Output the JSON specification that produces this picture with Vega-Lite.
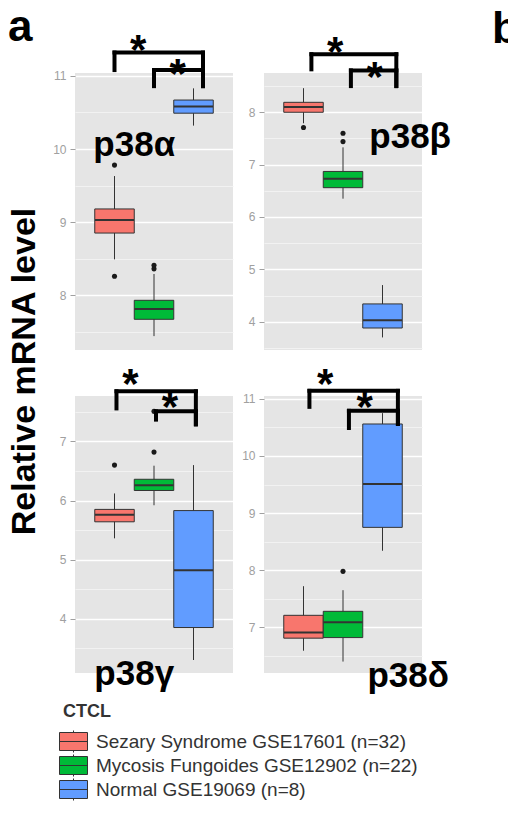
{
  "$schema": "https://vega.github.io/schema/vega-lite/v6.json",
  "padding": {"left": 7, "top": 5, "right": 0, "bottom": 0},
  "background": "white",
  "config": {
    "view": {"fill": "#E5E5E5", "stroke": null},
    "font": "Liberation Sans"
  },
  "datasets": {
    "boxes": [
      {"panel": "p38α", "group": "Sezary Syndrome GSE17601 (n=32)", "lower": 8.49, "q1": 8.85, "median": 9.03, "q3": 9.18, "upper": 9.63},
      {"panel": "p38α", "group": "Mycosis Fungoides GSE12902 (n=22)", "lower": 7.44, "q1": 7.67, "median": 7.81, "q3": 7.93, "upper": 8.29},
      {"panel": "p38α", "group": "Normal GSE19069 (n=8)", "lower": 10.32, "q1": 10.49, "median": 10.58, "q3": 10.67, "upper": 10.83},
      {"panel": "p38β", "group": "Sezary Syndrome GSE17601 (n=32)", "lower": 7.79, "q1": 8.0, "median": 8.1, "q3": 8.19, "upper": 8.46},
      {"panel": "p38β", "group": "Mycosis Fungoides GSE12902 (n=22)", "lower": 6.35, "q1": 6.56, "median": 6.73, "q3": 6.87, "upper": 7.33},
      {"panel": "p38β", "group": "Normal GSE19069 (n=8)", "lower": 3.7, "q1": 3.88, "median": 4.03, "q3": 4.34, "upper": 4.7},
      {"panel": "p38γ", "group": "Sezary Syndrome GSE17601 (n=32)", "lower": 5.36, "q1": 5.64, "median": 5.76, "q3": 5.85, "upper": 6.12},
      {"panel": "p38γ", "group": "Mycosis Fungoides GSE12902 (n=22)", "lower": 5.92, "q1": 6.17, "median": 6.26, "q3": 6.36, "upper": 6.59},
      {"panel": "p38γ", "group": "Normal GSE19069 (n=8)", "lower": 3.3, "q1": 3.85, "median": 4.82, "q3": 5.83, "upper": 6.6},
      {"panel": "p38δ", "group": "Sezary Syndrome GSE17601 (n=32)", "lower": 6.59, "q1": 6.81, "median": 6.91, "q3": 7.21, "upper": 7.72},
      {"panel": "p38δ", "group": "Mycosis Fungoides GSE12902 (n=22)", "lower": 6.4, "q1": 6.82, "median": 7.09, "q3": 7.28, "upper": 7.65},
      {"panel": "p38δ", "group": "Normal GSE19069 (n=8)", "lower": 8.34, "q1": 8.75, "median": 9.51, "q3": 10.56, "upper": 10.75}
    ],
    "outliers": [
      {"panel": "p38α", "group": "Sezary Syndrome GSE17601 (n=32)", "value": 9.78},
      {"panel": "p38α", "group": "Sezary Syndrome GSE17601 (n=32)", "value": 8.26},
      {"panel": "p38α", "group": "Mycosis Fungoides GSE12902 (n=22)", "value": 8.36},
      {"panel": "p38α", "group": "Mycosis Fungoides GSE12902 (n=22)", "value": 8.41},
      {"panel": "p38β", "group": "Sezary Syndrome GSE17601 (n=32)", "value": 7.71},
      {"panel": "p38β", "group": "Mycosis Fungoides GSE12902 (n=22)", "value": 7.44},
      {"panel": "p38β", "group": "Mycosis Fungoides GSE12902 (n=22)", "value": 7.6},
      {"panel": "p38γ", "group": "Sezary Syndrome GSE17601 (n=32)", "value": 6.6},
      {"panel": "p38γ", "group": "Mycosis Fungoides GSE12902 (n=22)", "value": 6.82},
      {"panel": "p38γ", "group": "Mycosis Fungoides GSE12902 (n=22)", "value": 7.51},
      {"panel": "p38δ", "group": "Mycosis Fungoides GSE12902 (n=22)", "value": 7.98}
    ],
    "brackets": [
      {"panel": "p38α", "from": "Sezary Syndrome GSE17601 (n=32)", "to": "Normal GSE19069 (n=8)", "level": 11.32, "leftEnd": 11.08, "rightEnd": 10.86, "star": "Mycosis Fungoides GSE12902 (n=22)", "starY": 11.44, "sig": "*"},
      {"panel": "p38α", "from": "Mycosis Fungoides GSE12902 (n=22)", "to": "Normal GSE19069 (n=8)", "level": 11.08, "leftEnd": 10.86, "rightEnd": 10.86, "star": "Normal GSE19069 (n=8)", "starY": 11.11, "sig": "*"},
      {"panel": "p38β", "from": "Sezary Syndrome GSE17601 (n=32)", "to": "Normal GSE19069 (n=8)", "level": 9.11, "leftEnd": 8.82, "rightEnd": 8.5, "star": "Mycosis Fungoides GSE12902 (n=22)", "starY": 9.26, "sig": "*"},
      {"panel": "p38β", "from": "Mycosis Fungoides GSE12902 (n=22)", "to": "Normal GSE19069 (n=8)", "level": 8.8, "leftEnd": 8.5, "rightEnd": 8.5, "star": "Normal GSE19069 (n=8)", "starY": 8.78, "sig": "*"},
      {"panel": "p38γ", "from": "Sezary Syndrome GSE17601 (n=32)", "to": "Normal GSE19069 (n=8)", "level": 7.85, "leftEnd": 7.56, "rightEnd": 7.29, "star": "Mycosis Fungoides GSE12902 (n=22)", "starY": 8.07, "sig": "*"},
      {"panel": "p38γ", "from": "Mycosis Fungoides GSE12902 (n=22)", "to": "Normal GSE19069 (n=8)", "level": 7.51, "leftEnd": 7.37, "rightEnd": 7.29, "star": "Normal GSE19069 (n=8)", "starY": 7.68, "sig": "*"},
      {"panel": "p38δ", "from": "Sezary Syndrome GSE17601 (n=32)", "to": "Normal GSE19069 (n=8)", "level": 11.14, "leftEnd": 10.86, "rightEnd": 10.56, "star": "Mycosis Fungoides GSE12902 (n=22)", "starY": 11.37, "sig": "*"},
      {"panel": "p38δ", "from": "Mycosis Fungoides GSE12902 (n=22)", "to": "Normal GSE19069 (n=8)", "level": 10.79, "leftEnd": 10.49, "rightEnd": 10.56, "star": "Normal GSE19069 (n=8)", "starY": 10.96, "sig": "*"}
    ],
    "labels": [
      {"panel": "p38α", "label": "p38α", "anchor": "Mycosis Fungoides GSE12902 (n=22)", "y": 9.9},
      {"panel": "p38β", "label": "p38β", "anchor": "Normal GSE19069 (n=8)", "y": 7.31},
      {"panel": "p38γ", "label": "p38γ", "anchor": "Mycosis Fungoides GSE12902 (n=22)", "y": 2.88},
      {"panel": "p38δ", "label": "p38δ", "anchor": "Normal GSE19069 (n=8)", "y": 5.96}
    ]
  },
  "columns": 2,
  "bounds": "flush",
  "spacing": {"row": 46, "column": 31},
  "resolve": {"scale": {"x": "independent", "y": "independent"}},
  "concat": [
    {
      "width": 158, "height": 277,
      "title": {"text": "a", "anchor": "start", "fontSize": 44, "fontWeight": "bold", "color": "black", "baseline": "alphabetic", "offset": -55, "dx": 1},
      "resolve": {"axis": {"y": "independent"}},
      "layer": [
        {"data": {"name": "boxes"}, "transform": [{"filter": "datum.panel === 'p38α'"}],
         "mark": {"type": "rule", "color": "#333333", "strokeWidth": 1},
         "encoding": {
           "x": {"field": "group", "type": "nominal", "scale": {"type": "band", "domain": ["Sezary Syndrome GSE17601 (n=32)", "Mycosis Fungoides GSE12902 (n=22)", "Normal GSE19069 (n=8)"], "paddingInner": 0, "paddingOuter": 0.5},
                 "axis": {"values": ["Mycosis Fungoides GSE12902 (n=22)"], "bandPosition": 0.5, "grid": true, "gridColor": "white", "gridWidth": 1.3, "labels": false, "ticks": true, "tickSize": 3, "tickColor": "#b0b0b0", "domain": false, "title": null}},
           "y": {"field": "lower", "type": "quantitative", "scale": {"domain": [7.25, 11.04], "nice": false, "zero": false},
                 "axis": {"orient": "left", "values": [7.5, 8.5, 9.5, 10.5], "grid": true, "gridColor": "#F2F2F2", "gridWidth": 1, "labels": false, "ticks": false, "domain": false, "title": null}},
           "y2": {"field": "upper"}
         }},
        {"data": {"name": "boxes"}, "transform": [{"filter": "datum.panel === 'p38α'"}],
         "mark": {"type": "bar", "stroke": "#333333", "strokeWidth": 1},
         "encoding": {
           "x": {"field": "group", "type": "nominal", "axis": null},
           "y": {"field": "q1", "type": "quantitative",
                 "axis": {"orient": "left", "values": [8, 9, 10, 11], "grid": true, "gridColor": "white", "gridWidth": 1.3, "tickColor": "#a0a0a0", "tickSize": 5, "labelColor": "#a0a0a0", "labelFontSize": 12, "labelPadding": 4, "domain": false,
                          "title": "Relative mRNA level", "titleFontSize": 34, "titleFontWeight": "bold", "titleColor": "black", "titleAngle": 270, "titleX": -51, "titleY": 298, "titleAlign": "center", "titleBaseline": "middle"}},
           "y2": {"field": "q3"},
           "fill": {"field": "group", "type": "nominal",
                    "scale": {"domain": ["Sezary Syndrome GSE17601 (n=32)", "Mycosis Fungoides GSE12902 (n=22)", "Normal GSE19069 (n=8)"], "range": ["#F8766D", "#00BA38", "#619CFF"]},
                    "legend": {"title": "CTCL", "orient": "none", "legendX": -12, "legendY": 630, "padding": 0,
                               "symbolType": "M-1.4,-0.9H1.4V0.9H-1.4Z M-1.4,0H1.4 M0,-0.9V-1.1 M0,0.9V1.1", "symbolSize": 400, "symbolStrokeColor": "#333333", "symbolStrokeWidth": 1,
                               "labelFontSize": 19, "labelColor": "#333333", "labelOffset": 12, "labelLimit": 0,
                               "titleFontSize": 18, "titleFontWeight": "bold", "titleColor": "#333333", "titlePadding": 10, "rowPadding": -6.5}}
         }},
        {"data": {"name": "boxes"}, "transform": [{"filter": "datum.panel === 'p38α'"}],
         "mark": {"type": "tick", "orient": "horizontal", "size": 39, "thickness": 2, "color": "#333333", "opacity": 1},
         "encoding": {"x": {"field": "group", "type": "nominal", "axis": null}, "y": {"field": "median", "type": "quantitative", "axis": null}}},
        {"data": {"name": "outliers"}, "transform": [{"filter": "datum.panel === 'p38α'"}],
         "mark": {"type": "circle", "size": 26, "color": "#1a1a1a", "opacity": 1},
         "encoding": {"x": {"field": "group", "type": "nominal", "axis": null}, "y": {"field": "value", "type": "quantitative", "axis": null}}},
        {"data": {"name": "brackets"}, "transform": [{"filter": "datum.panel === 'p38α'"}],
         "mark": {"type": "rule", "strokeWidth": 4, "color": "black", "strokeCap": "square"},
         "encoding": {"x": {"field": "from", "type": "nominal", "bandPosition": 0.5, "axis": null}, "x2": {"field": "to", "bandPosition": 0.74}, "y": {"field": "level", "type": "quantitative", "axis": null}}},
        {"data": {"name": "brackets"}, "transform": [{"filter": "datum.panel === 'p38α'"}],
         "mark": {"type": "rule", "strokeWidth": 4, "color": "black", "strokeCap": "square"},
         "encoding": {"x": {"field": "from", "type": "nominal", "bandPosition": 0.5, "axis": null}, "y": {"field": "level", "type": "quantitative", "axis": null}, "y2": {"field": "leftEnd"}}},
        {"data": {"name": "brackets"}, "transform": [{"filter": "datum.panel === 'p38α'"}],
         "mark": {"type": "rule", "strokeWidth": 4, "color": "black", "strokeCap": "square"},
         "encoding": {"x": {"field": "to", "type": "nominal", "bandPosition": 0.74, "axis": null}, "y": {"field": "level", "type": "quantitative", "axis": null}, "y2": {"field": "rightEnd"}}},
        {"data": {"name": "brackets"}, "transform": [{"filter": "datum.panel === 'p38α'"}],
         "mark": {"type": "text", "fontSize": 42, "fontWeight": "bold", "color": "black", "baseline": "alphabetic", "dy": 20},
         "encoding": {"x": {"field": "star", "type": "nominal", "bandPosition": 0.1, "axis": null}, "y": {"field": "starY", "type": "quantitative", "axis": null}, "text": {"field": "sig"}}},
        {"data": {"name": "labels"}, "transform": [{"filter": "datum.panel === 'p38α'"}],
         "mark": {"type": "text", "fontSize": 35, "fontWeight": "bold", "color": "black", "baseline": "alphabetic", "align": "center"},
         "encoding": {"x": {"field": "anchor", "type": "nominal", "bandPosition": 0.0, "axis": null}, "y": {"field": "y", "type": "quantitative", "axis": null}, "text": {"field": "label"}}}
      ]
    },
    {
      "width": 158, "height": 277,
      "title": {"text": "b", "anchor": "end", "fontSize": 44, "fontWeight": "bold", "color": "black", "baseline": "alphabetic", "offset": -55, "dx": 68},
      "resolve": {"axis": {"y": "independent"}},
      "layer": [
        {"data": {"name": "boxes"}, "transform": [{"filter": "datum.panel === 'p38β'"}],
         "mark": {"type": "rule", "color": "#333333", "strokeWidth": 1},
         "encoding": {
           "x": {"field": "group", "type": "nominal", "scale": {"type": "band", "domain": ["Sezary Syndrome GSE17601 (n=32)", "Mycosis Fungoides GSE12902 (n=22)", "Normal GSE19069 (n=8)"], "paddingInner": 0, "paddingOuter": 0.5},
                 "axis": {"values": ["Mycosis Fungoides GSE12902 (n=22)"], "bandPosition": 0.5, "grid": true, "gridColor": "white", "gridWidth": 1.3, "labels": false, "ticks": true, "tickSize": 3, "tickColor": "#b0b0b0", "domain": false, "title": null}},
           "y": {"field": "lower", "type": "quantitative", "scale": {"domain": [3.46, 8.75], "nice": false, "zero": false},
                 "axis": {"orient": "left", "values": [3.5, 4.5, 5.5, 6.5, 7.5, 8.5], "grid": true, "gridColor": "#F2F2F2", "gridWidth": 1, "labels": false, "ticks": false, "domain": false, "title": null}},
           "y2": {"field": "upper"}
         }},
        {"data": {"name": "boxes"}, "transform": [{"filter": "datum.panel === 'p38β'"}],
         "mark": {"type": "bar", "stroke": "#333333", "strokeWidth": 1},
         "encoding": {
           "x": {"field": "group", "type": "nominal", "axis": null},
           "y": {"field": "q1", "type": "quantitative",
                 "axis": {"orient": "left", "values": [4, 5, 6, 7, 8], "grid": true, "gridColor": "white", "gridWidth": 1.3, "tickColor": "#a0a0a0", "tickSize": 5, "labelColor": "#a0a0a0", "labelFontSize": 12, "labelPadding": 4, "domain": false, "title": null}},
           "y2": {"field": "q3"},
           "fill": {"field": "group", "type": "nominal"}
         }},
        {"data": {"name": "boxes"}, "transform": [{"filter": "datum.panel === 'p38β'"}],
         "mark": {"type": "tick", "orient": "horizontal", "size": 39, "thickness": 2, "color": "#333333", "opacity": 1},
         "encoding": {"x": {"field": "group", "type": "nominal", "axis": null}, "y": {"field": "median", "type": "quantitative", "axis": null}}},
        {"data": {"name": "outliers"}, "transform": [{"filter": "datum.panel === 'p38β'"}],
         "mark": {"type": "circle", "size": 26, "color": "#1a1a1a", "opacity": 1},
         "encoding": {"x": {"field": "group", "type": "nominal", "axis": null}, "y": {"field": "value", "type": "quantitative", "axis": null}}},
        {"data": {"name": "brackets"}, "transform": [{"filter": "datum.panel === 'p38β'"}],
         "mark": {"type": "rule", "strokeWidth": 4, "color": "black", "strokeCap": "square"},
         "encoding": {"x": {"field": "from", "type": "nominal", "bandPosition": 0.7, "axis": null}, "x2": {"field": "to", "bandPosition": 0.85}, "y": {"field": "level", "type": "quantitative", "axis": null}}},
        {"data": {"name": "brackets"}, "transform": [{"filter": "datum.panel === 'p38β'"}],
         "mark": {"type": "rule", "strokeWidth": 4, "color": "black", "strokeCap": "square"},
         "encoding": {"x": {"field": "from", "type": "nominal", "bandPosition": 0.7, "axis": null}, "y": {"field": "level", "type": "quantitative", "axis": null}, "y2": {"field": "leftEnd"}}},
        {"data": {"name": "brackets"}, "transform": [{"filter": "datum.panel === 'p38β'"}],
         "mark": {"type": "rule", "strokeWidth": 4, "color": "black", "strokeCap": "square"},
         "encoding": {"x": {"field": "to", "type": "nominal", "bandPosition": 0.85, "axis": null}, "y": {"field": "level", "type": "quantitative", "axis": null}, "y2": {"field": "rightEnd"}}},
        {"data": {"name": "brackets"}, "transform": [{"filter": "datum.panel === 'p38β'"}],
         "mark": {"type": "text", "fontSize": 42, "fontWeight": "bold", "color": "black", "baseline": "alphabetic", "dy": 20},
         "encoding": {"x": {"field": "star", "type": "nominal", "bandPosition": 0.3, "axis": null}, "y": {"field": "starY", "type": "quantitative", "axis": null}, "text": {"field": "sig"}}},
        {"data": {"name": "labels"}, "transform": [{"filter": "datum.panel === 'p38β'"}],
         "mark": {"type": "text", "fontSize": 35, "fontWeight": "bold", "color": "black", "baseline": "alphabetic", "align": "center"},
         "encoding": {"x": {"field": "anchor", "type": "nominal", "bandPosition": 1.2, "axis": null}, "y": {"field": "y", "type": "quantitative", "axis": null}, "text": {"field": "label"}}}
      ]
    },
    {
      "width": 158, "height": 277,
      "resolve": {"axis": {"y": "independent"}},
      "layer": [
        {"data": {"name": "boxes"}, "transform": [{"filter": "datum.panel === 'p38γ'"}],
         "mark": {"type": "rule", "color": "#333333", "strokeWidth": 1},
         "encoding": {
           "x": {"field": "group", "type": "nominal", "scale": {"type": "band", "domain": ["Sezary Syndrome GSE17601 (n=32)", "Mycosis Fungoides GSE12902 (n=22)", "Normal GSE19069 (n=8)"], "paddingInner": 0, "paddingOuter": 0.5},
                 "axis": {"values": ["Mycosis Fungoides GSE12902 (n=22)"], "bandPosition": 0.5, "grid": true, "gridColor": "white", "gridWidth": 1.3, "labels": false, "ticks": true, "tickSize": 3, "tickColor": "#b0b0b0", "domain": false, "title": null}},
           "y": {"field": "lower", "type": "quantitative", "scale": {"domain": [3.08, 7.77], "nice": false, "zero": false},
                 "axis": {"orient": "left", "values": [3.5, 4.5, 5.5, 6.5, 7.5], "grid": true, "gridColor": "#F2F2F2", "gridWidth": 1, "labels": false, "ticks": false, "domain": false, "title": null}},
           "y2": {"field": "upper"}
         }},
        {"data": {"name": "boxes"}, "transform": [{"filter": "datum.panel === 'p38γ'"}],
         "mark": {"type": "bar", "stroke": "#333333", "strokeWidth": 1},
         "encoding": {
           "x": {"field": "group", "type": "nominal", "axis": null},
           "y": {"field": "q1", "type": "quantitative",
                 "axis": {"orient": "left", "values": [4, 5, 6, 7], "grid": true, "gridColor": "white", "gridWidth": 1.3, "tickColor": "#a0a0a0", "tickSize": 5, "labelColor": "#a0a0a0", "labelFontSize": 12, "labelPadding": 4, "domain": false, "title": null}},
           "y2": {"field": "q3"},
           "fill": {"field": "group", "type": "nominal"}
         }},
        {"data": {"name": "boxes"}, "transform": [{"filter": "datum.panel === 'p38γ'"}],
         "mark": {"type": "tick", "orient": "horizontal", "size": 39, "thickness": 2, "color": "#333333", "opacity": 1},
         "encoding": {"x": {"field": "group", "type": "nominal", "axis": null}, "y": {"field": "median", "type": "quantitative", "axis": null}}},
        {"data": {"name": "outliers"}, "transform": [{"filter": "datum.panel === 'p38γ'"}],
         "mark": {"type": "circle", "size": 26, "color": "#1a1a1a", "opacity": 1},
         "encoding": {"x": {"field": "group", "type": "nominal", "axis": null}, "y": {"field": "value", "type": "quantitative", "axis": null}}},
        {"data": {"name": "brackets"}, "transform": [{"filter": "datum.panel === 'p38γ'"}],
         "mark": {"type": "rule", "strokeWidth": 4, "color": "black", "strokeCap": "square"},
         "encoding": {"x": {"field": "from", "type": "nominal", "bandPosition": 0.55, "axis": null}, "x2": {"field": "to", "bandPosition": 0.56}, "y": {"field": "level", "type": "quantitative", "axis": null}}},
        {"data": {"name": "brackets"}, "transform": [{"filter": "datum.panel === 'p38γ'"}],
         "mark": {"type": "rule", "strokeWidth": 4, "color": "black", "strokeCap": "square"},
         "encoding": {"x": {"field": "from", "type": "nominal", "bandPosition": 0.55, "axis": null}, "y": {"field": "level", "type": "quantitative", "axis": null}, "y2": {"field": "leftEnd"}}},
        {"data": {"name": "brackets"}, "transform": [{"filter": "datum.panel === 'p38γ'"}],
         "mark": {"type": "rule", "strokeWidth": 4, "color": "black", "strokeCap": "square"},
         "encoding": {"x": {"field": "to", "type": "nominal", "bandPosition": 0.56, "axis": null}, "y": {"field": "level", "type": "quantitative", "axis": null}, "y2": {"field": "rightEnd"}}},
        {"data": {"name": "brackets"}, "transform": [{"filter": "datum.panel === 'p38γ'"}],
         "mark": {"type": "text", "fontSize": 42, "fontWeight": "bold", "color": "black", "baseline": "alphabetic", "dy": 20},
         "encoding": {"x": {"field": "star", "type": "nominal", "bandPosition": -0.1, "axis": null}, "y": {"field": "starY", "type": "quantitative", "axis": null}, "text": {"field": "sig"}}},
        {"data": {"name": "labels"}, "transform": [{"filter": "datum.panel === 'p38γ'"}],
         "mark": {"type": "text", "fontSize": 35, "fontWeight": "bold", "color": "black", "baseline": "alphabetic", "align": "center"},
         "encoding": {"x": {"field": "anchor", "type": "nominal", "bandPosition": 0.0, "axis": null}, "y": {"field": "y", "type": "quantitative", "axis": null}, "text": {"field": "label"}}}
      ]
    },
    {
      "width": 158, "height": 277,
      "resolve": {"axis": {"y": "independent"}},
      "layer": [
        {"data": {"name": "boxes"}, "transform": [{"filter": "datum.panel === 'p38δ'"}],
         "mark": {"type": "rule", "color": "#333333", "strokeWidth": 1},
         "encoding": {
           "x": {"field": "group", "type": "nominal", "scale": {"type": "band", "domain": ["Sezary Syndrome GSE17601 (n=32)", "Mycosis Fungoides GSE12902 (n=22)", "Normal GSE19069 (n=8)"], "paddingInner": 0, "paddingOuter": 0.5},
                 "axis": {"values": ["Mycosis Fungoides GSE12902 (n=22)"], "bandPosition": 0.5, "grid": true, "gridColor": "white", "gridWidth": 1.3, "labels": false, "ticks": true, "tickSize": 3, "tickColor": "#b0b0b0", "domain": false, "title": null}},
           "y": {"field": "lower", "type": "quantitative", "scale": {"domain": [6.2, 11.05], "nice": false, "zero": false},
                 "axis": {"orient": "left", "values": [6.5, 7.5, 8.5, 9.5, 10.5], "grid": true, "gridColor": "#F2F2F2", "gridWidth": 1, "labels": false, "ticks": false, "domain": false, "title": null}},
           "y2": {"field": "upper"}
         }},
        {"data": {"name": "boxes"}, "transform": [{"filter": "datum.panel === 'p38δ'"}],
         "mark": {"type": "bar", "stroke": "#333333", "strokeWidth": 1},
         "encoding": {
           "x": {"field": "group", "type": "nominal", "axis": null},
           "y": {"field": "q1", "type": "quantitative",
                 "axis": {"orient": "left", "values": [7, 8, 9, 10, 11], "grid": true, "gridColor": "white", "gridWidth": 1.3, "tickColor": "#a0a0a0", "tickSize": 5, "labelColor": "#a0a0a0", "labelFontSize": 12, "labelPadding": 4, "domain": false, "title": null}},
           "y2": {"field": "q3"},
           "fill": {"field": "group", "type": "nominal"}
         }},
        {"data": {"name": "boxes"}, "transform": [{"filter": "datum.panel === 'p38δ'"}],
         "mark": {"type": "tick", "orient": "horizontal", "size": 39, "thickness": 2, "color": "#333333", "opacity": 1},
         "encoding": {"x": {"field": "group", "type": "nominal", "axis": null}, "y": {"field": "median", "type": "quantitative", "axis": null}}},
        {"data": {"name": "outliers"}, "transform": [{"filter": "datum.panel === 'p38δ'"}],
         "mark": {"type": "circle", "size": 26, "color": "#1a1a1a", "opacity": 1},
         "encoding": {"x": {"field": "group", "type": "nominal", "axis": null}, "y": {"field": "value", "type": "quantitative", "axis": null}}},
        {"data": {"name": "brackets"}, "transform": [{"filter": "datum.panel === 'p38δ'"}],
         "mark": {"type": "rule", "strokeWidth": 4, "color": "black", "strokeCap": "square"},
         "encoding": {"x": {"field": "from", "type": "nominal", "bandPosition": 0.65, "axis": null}, "x2": {"field": "to", "bandPosition": 0.89}, "y": {"field": "level", "type": "quantitative", "axis": null}}},
        {"data": {"name": "brackets"}, "transform": [{"filter": "datum.panel === 'p38δ'"}],
         "mark": {"type": "rule", "strokeWidth": 4, "color": "black", "strokeCap": "square"},
         "encoding": {"x": {"field": "from", "type": "nominal", "bandPosition": 0.65, "axis": null}, "y": {"field": "level", "type": "quantitative", "axis": null}, "y2": {"field": "leftEnd"}}},
        {"data": {"name": "brackets"}, "transform": [{"filter": "datum.panel === 'p38δ'"}],
         "mark": {"type": "rule", "strokeWidth": 4, "color": "black", "strokeCap": "square"},
         "encoding": {"x": {"field": "to", "type": "nominal", "bandPosition": 0.89, "axis": null}, "y": {"field": "level", "type": "quantitative", "axis": null}, "y2": {"field": "rightEnd"}}},
        {"data": {"name": "brackets"}, "transform": [{"filter": "datum.panel === 'p38δ'"}],
         "mark": {"type": "text", "fontSize": 42, "fontWeight": "bold", "color": "black", "baseline": "alphabetic", "dy": 20},
         "encoding": {"x": {"field": "star", "type": "nominal", "bandPosition": 0.05, "axis": null}, "y": {"field": "starY", "type": "quantitative", "axis": null}, "text": {"field": "sig"}}},
        {"data": {"name": "labels"}, "transform": [{"filter": "datum.panel === 'p38δ'"}],
         "mark": {"type": "text", "fontSize": 35, "fontWeight": "bold", "color": "black", "baseline": "alphabetic", "align": "center"},
         "encoding": {"x": {"field": "anchor", "type": "nominal", "bandPosition": 1.15, "axis": null}, "y": {"field": "y", "type": "quantitative", "axis": null}, "text": {"field": "label"}}}
      ]
    }
  ]
}
